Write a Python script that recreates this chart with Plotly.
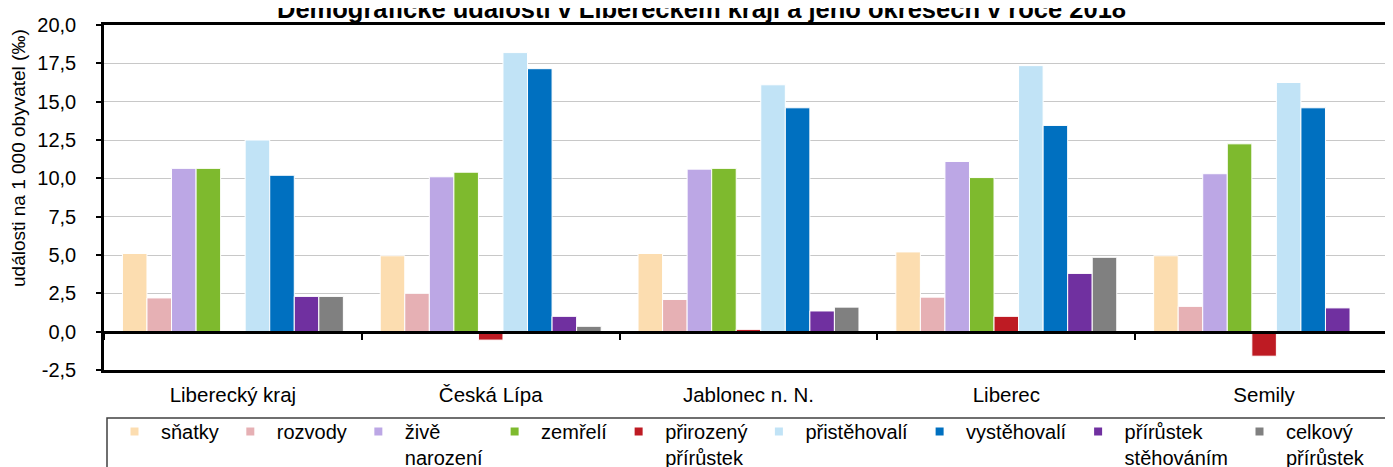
# plot.py
# -------
# Demographic events in the Liberec region and its districts, 2018 (per 1 000 inhabitants).
# The page body has an 8px default margin, so the figure is 8px smaller than the window.

import plotly.graph_objects as go

FONT = "Liberation Sans, Arial, sans-serif"
FIG_W = 1385
FIG_H = 459

# Categories (x axis)
DISTRICTS = ["Liberecký kraj", "Česká Lípa", "Jablonec n. N.", "Liberec", "Semily"]

# Series values, per mille
SNATKY = [5.1, 4.95, 5.1, 5.2, 4.95]
ROZVODY = [2.2, 2.5, 2.1, 2.25, 1.65]
ZIVE_NAROZENI = [10.65, 10.1, 10.6, 11.1, 10.3]
ZEMRELI = [10.65, 10.4, 10.65, 10.05, 12.25]
PRIROZENY_PRIRUSTEK = [0.0, -0.55, 0.15, 1.0, -1.6]
PRISTEHOVALI = [12.5, 18.2, 16.1, 17.35, 16.25]
VYSTEHOVALI = [10.2, 17.15, 14.6, 13.45, 14.6]
PRIRUSTEK_STEHOVANIM = [2.3, 1.0, 1.35, 3.8, 1.55]
CELKOVY_PRIRUSTEK = [2.3, 0.35, 1.6, 4.85, -0.05]

# Legend labels (two-line ones wrap like the original)
SERIES_LABELS = [
    "sňatky",
    "rozvody",
    "živě<br>narození",
    "zemřelí",
    "přirozený<br>přírůstek",
    "přistěhovalí",
    "vystěhovalí",
    "přírůstek<br>stěhováním",
    "celkový<br>přírůstek",
]

SERIES_VALUES = [
    SNATKY, ROZVODY, ZIVE_NAROZENI, ZEMRELI, PRIROZENY_PRIRUSTEK,
    PRISTEHOVALI, VYSTEHOVALI, PRIRUSTEK_STEHOVANIM, CELKOVY_PRIRUSTEK,
]

# Colour for each series
SERIES_COLORS = [
    "#FCDDB0",
    "#E6B0B4",
    "#BCA7E5",
    "#7EBA2E",
    "#BE1B23",
    "#C1E3F6",
    "#0070C0",
    "#7030A0",
    "#808080",
]

# Y ticks, labelled with a decimal comma and a plain hyphen for negatives
Y_TICKS = [-2.5, 0, 2.5, 5, 7.5, 10, 12.5, 15, 17.5, 20]
Y_TICK_TEXT = ["-2,5", "0,0", "2,5", "5,0", "7,5", "10,0", "12,5", "15,0", "17,5", "20,0"]

TITLE = "Demografické události v Libereckém kraji a jeho okresech v roce 2018"

fig = go.Figure()

for label, values, color in zip(SERIES_LABELS, SERIES_VALUES, SERIES_COLORS):
    fig.add_trace(
        go.Bar(
            x=DISTRICTS,
            y=values,
            name=label,
            marker=dict(color=color, line=dict(color="white", width=1)),
            showlegend=False,
            hovertemplate=f"{label.replace('<br>', ' ')}: " + "%{y:.1f}<extra></extra>",
        )
    )

# Dummy traces, only for the small square legend keys
for label, color in zip(SERIES_LABELS, SERIES_COLORS):
    fig.add_trace(
        go.Scatter(
            x=[None], y=[None],
            mode="markers",
            marker=dict(symbol="square", size=8, color=color),
            name=label,
            showlegend=True,
            hoverinfo="skip",
        )
    )

# Invisible trace on the overlay axis that draws the zero line with boundary ticks
fig.add_trace(
    go.Scatter(
        x=DISTRICTS, y=[None] * len(DISTRICTS),
        xaxis="x2", mode="markers",
        showlegend=False, hoverinfo="skip",
    )
)

fig.update_layout(
    width=FIG_W,
    height=FIG_H,
    margin=dict(l=96, r=0, t=17, b=97),
    barmode="group",
    bargap=0.143,
    bargroupgap=0,
    plot_bgcolor="white",
    paper_bgcolor="white",
    separators=", ",
    font=dict(family=FONT, size=20, color="black"),
    showlegend=True,
    legend=dict(
        orientation="h",
        xref="container", yref="container",
        x=100 / FIG_W, y=1 - 404 / FIG_H,
        xanchor="left", yanchor="top",
        itemwidth=43,
        valign="top",
        traceorder="normal",
        font=dict(family=FONT, size=20, color="black"),
        bgcolor="rgba(0,0,0,0)",
        borderwidth=0,
    ),
)

fig.update_xaxes(
    type="category",
    categoryorder="array",
    categoryarray=DISTRICTS,
    range=[-0.5, len(DISTRICTS) - 0.5],
    showgrid=False,
    showline=True,
    mirror=True,
    linecolor="black",
    linewidth=2.5,
    ticks="",
    ticklabelstandoff=5,
    tickfont=dict(family=FONT, size=20.5, color="black"),
)

fig.update_layout(
    xaxis2=dict(
        type="category",
        categoryorder="array",
        categoryarray=DISTRICTS,
        range=[-0.5, len(DISTRICTS) - 0.5],
        overlaying="x",
        anchor="free",
        position=2.5 / 22.5,
        side="bottom",
        showgrid=False,
        showticklabels=False,
        showline=True,
        linecolor="black",
        linewidth=3,
        tickson="boundaries",
        ticks="outside",
        ticklen=6,
        tickwidth=1.5,
        tickcolor="black",
        layer="above traces",
    )
)

fig.update_yaxes(
    range=[-2.5, 20],
    tickvals=Y_TICKS,
    ticktext=Y_TICK_TEXT,
    showgrid=True,
    gridcolor="#C8C8C8",
    gridwidth=1.3,
    zeroline=False,
    showline=True,
    linecolor="black",
    linewidth=2.5,
    ticks="outside",
    ticklen=5,
    tickwidth=1.5,
    tickcolor="black",
    ticklabelstandoff=16,
    tickfont=dict(family=FONT, size=20, color="black"),
)

# Chart title, partly running off the top edge as in the original
fig.add_annotation(
    text=f"<b>{TITLE}</b>",
    xref="paper", yref="paper",
    x=597 / 1289, y=361 / 345,
    xanchor="center", yanchor="middle",
    showarrow=False,
    font=dict(family=FONT, size=25.5, color="black"),
)

# Y axis title sits above the centre of the axis in the original, so place it by hand
fig.add_annotation(
    text="události na 1 000 obyvatel (‰)",
    textangle=-90,
    xref="paper", yref="paper",
    x=-85 / 1289, y=212 / 345,
    xanchor="center", yanchor="middle",
    showarrow=False,
    font=dict(family=FONT, size=19, color="black"),
)

# Frame around the legend, running off the right and bottom edges like the original
fig.add_shape(
    type="rect",
    xref="paper", yref="paper",
    x0=3 / 1289, x1=1.05,
    y0=-0.6, y1=-48 / 345,
    line=dict(color="#404040", width=1.5),
    fillcolor="rgba(0,0,0,0)",
)

fig.write_html("out.html")
